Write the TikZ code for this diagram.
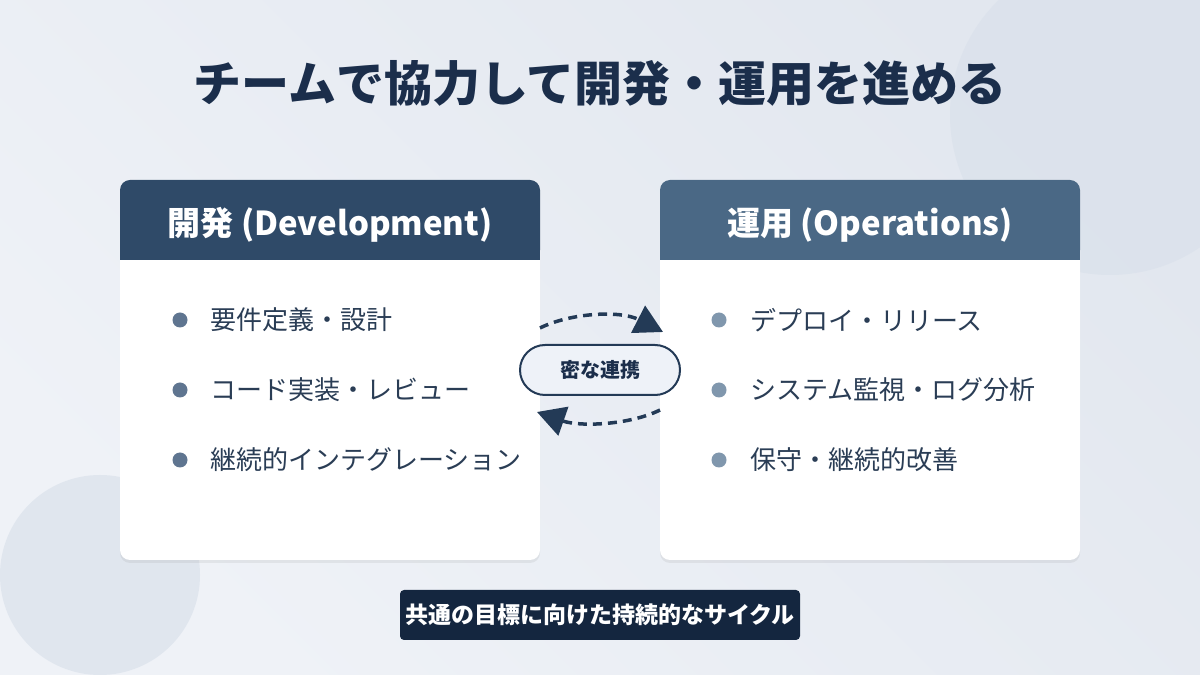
\documentclass[tikz,border=0pt]{standalone}
\usepackage{fontspec}
\setmainfont{Noto Sans CJK JP}
\usetikzlibrary{arrows.meta,shadows}
\definecolor{bgA}{HTML}{EFF2F7}
\definecolor{bgB}{HTML}{E2E7EF}
\definecolor{circ}{HTML}{DAE1EB}
\definecolor{navy}{HTML}{1B2E4B}
\definecolor{hdrL}{HTML}{2F4A68}
\definecolor{hdrR}{HTML}{4A6885}
\definecolor{txt}{HTML}{2A3D55}
\definecolor{dotL}{HTML}{5F7590}
\definecolor{dotR}{HTML}{8097AD}
\definecolor{pill}{HTML}{EEF2F8}
\definecolor{band}{HTML}{14263F}
\definecolor{arr}{HTML}{233A56}
\tikzset{
 card/.style={fill=white,rounded corners=10pt,drop shadow={opacity=0.12,shadow xshift=0pt,shadow yshift=-3pt}},
 hdrtext/.style={text=white,font=\fontsize{33}{40}\selectfont\bfseries},
 item/.style={anchor=west,text=txt,font=\fontsize{26}{31}\selectfont,inner sep=0pt},
 flow/.style={draw=arr,line width=3.5pt,dash pattern=on 9pt off 6pt,-{Triangle[length=28pt,width=30pt]}}
}
\begin{document}
\begin{tikzpicture}[x=1pt,y=1pt]
\useasboundingbox (0,0) rectangle (1200,675);
\shade[left color=bgA,right color=bgB,shading angle=135] (0,0) rectangle (1200,675);
\fill[circ,opacity=0.7] (1110,560) circle (160);
\fill[circ,opacity=0.7] (100,100) circle (100);
\node[text=navy,font=\fontsize{48}{56}\selectfont\bfseries] (title) at (600,592) {チームで協力して開発・運用を進める};
% left card
\path[card] (120,115) rectangle (540,495);
\fill[hdrL,rounded corners=10pt] (120,415) rectangle (540,495);
\fill[hdrL] (120,415) rectangle (540,440);
\node[hdrtext] (hl) at (330,450) {開発 (Development)};
% right card
\path[card] (660,115) rectangle (1080,495);
\fill[hdrR,rounded corners=10pt] (660,415) rectangle (1080,495);
\fill[hdrR] (660,415) rectangle (1080,440);
\node[hdrtext] (hr) at (870,450) {運用 (Operations)};
% bullets
\foreach \y/\t [count=\i] in {355/要件定義・設計,285/コード実装・レビュー,215/継続的インテグレーション}{
 \fill[dotL] (180,\y) circle (7.5);
 \node[item] (l\i) at (210,\y) {\t};}
\foreach \y/\t [count=\i] in {355/デプロイ・リリース,285/システム監視・ログ分析,215/保守・継続的改善}{
 \fill[dotR] (719,\y) circle (7.5);
 \node[item] (r\i) at (750,\y) {\t};}
% center
\node[draw=arr,line width=2pt,fill=pill,rounded corners=25pt,minimum width=160pt,minimum height=50pt,text=navy,font=\fontsize{20}{24}\selectfont\bfseries] (c) at (600,305) {密な連携};
\coordinate (a1) at (540,347);
\coordinate (a2) at (663,343);
\coordinate (b1) at (660,265);
\coordinate (b2) at (537,263);
\draw[flow] (a1) .. controls (570,362) and (620,365) .. (a2);
\draw[flow] (b1) .. controls (630,250) and (580,248) .. (b2);
% band
\fill[band,rounded corners=4pt] (400,35) rectangle (800,85);
\node[text=white,font=\fontsize{23}{27}\selectfont\bfseries] (bt) at (600,60) {共通の目標に向けた持続的なサイクル};
\end{tikzpicture}
\end{document}
